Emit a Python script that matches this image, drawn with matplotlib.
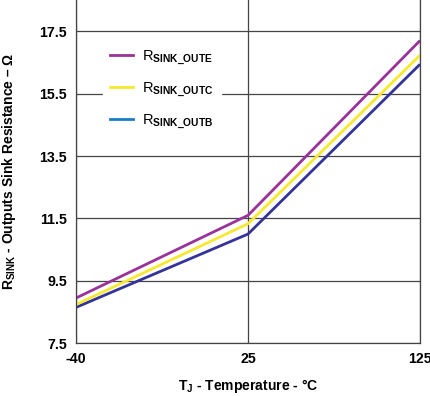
import matplotlib
matplotlib.use("Agg")
import matplotlib.pyplot as plt
from matplotlib.lines import Line2D

# junction temperature categories (equally spaced on the plot)
temps = ["-40", "25", "125"]

# sink resistance (ohm) per output
r_oute = [8.95, 11.6, 17.2]
r_outc = [8.74, 11.33, 16.73]
r_outb = [8.65, 11.0, 16.44]

yticks = [7.5, 9.5, 11.5, 13.5, 15.5, 17.5]

plt.rcParams["font.family"] = ["Liberation Sans", "DejaVu Sans"]
plt.rcParams["mathtext.fontset"] = "custom"
plt.rcParams["mathtext.rm"] = "Liberation Sans"
plt.rcParams["mathtext.bf"] = "Liberation Sans:bold"

fig = plt.figure(figsize=(4.31, 3.96), dpi=100)
ax = fig.add_axes([0.1763, 0.1331, 0.7982, 0.8669])

x = range(len(temps))
ax.plot(x, r_outb, color="#333399", lw=2.0, solid_capstyle="butt")
ax.plot(x, r_outc, color="#f7e830", lw=2.0, solid_capstyle="butt")
ax.plot(x, r_oute, color="#993399", lw=2.0, solid_capstyle="butt")

ax.set_xlim(0, 2)
ax.set_ylim(7.5, 18.5)
ax.set_xticks(list(x))
ax.set_xticklabels(temps)
ax.set_yticks(yticks)
ax.set_yticklabels([f"{v:.1f}" for v in yticks])
ax.tick_params(length=0, labelsize=10.2, pad=6.5)
for lbl in ax.get_xticklabels() + ax.get_yticklabels():
    lbl.set_fontweight("bold")

ax.grid(True, color="#444444", lw=0.9)
ax.set_axisbelow(True)
for side in ["left", "right", "bottom"]:
    ax.spines[side].set_color("#444444")
    ax.spines[side].set_linewidth(0.9)
ax.spines["top"].set_visible(False)

ax.set_xlabel(r"T$_\mathbf{J}$ - Temperature - °C", fontsize=10,
              fontweight="bold", labelpad=7.5)
ax.set_ylabel(r"R$_\mathbf{SINK}$ - Outputs Sink Resistance – Ω", fontsize=10,
              fontweight="bold", labelpad=15)

handles = [
    Line2D([], [], color="#993399", lw=2.0),
    Line2D([], [], color="#f7e830", lw=2.0),
    Line2D([], [], color="#1a7dc4", lw=2.0),
]
labels = [r"R$_\mathbf{SINK\_OUTE}$", r"R$_\mathbf{SINK\_OUTC}$",
          r"R$_\mathbf{SINK\_OUTB}$"]
leg = ax.legend(handles, labels, loc="upper left", bbox_to_anchor=(0.078, 0.88),
                borderaxespad=0, frameon=True, fancybox=False, framealpha=1,
                edgecolor="white", fontsize=10.5, handlelength=1.6,
                handletextpad=0.6, labelspacing=0.9, borderpad=0.5)

fig.savefig("out.png", dpi=100)
